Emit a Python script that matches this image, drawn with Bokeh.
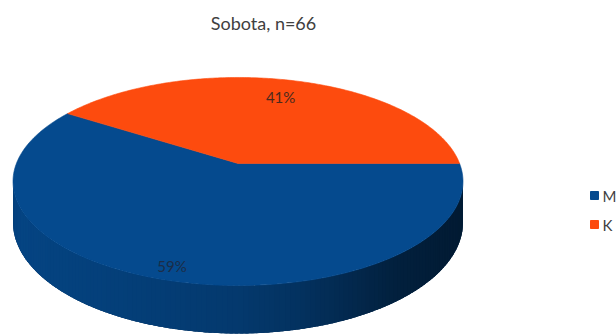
import numpy as np
from bokeh.plotting import figure
from bokeh.models import Range1d, Label
from bokeh.embed import file_html
from bokeh.resources import INLINE

# ---- data ----
title_text = "Sobota, n=66"
categories = ["M", "K"]
counts = [39, 27]
pct_labels = ["59%", "41%"]
slice_colors = ["#054A8E", "#FD4B0E"]
label_colors = ["#1B2D48", "#4A2A1E"]
label_radius = [0.9, 0.77]

# ---- geometry (layout, in screen pixels of the reference) ----
cx, cy = 237.5, 163.0      # projected centre of the top face
R, A = 221.6, 100.9        # horizontal / vertical half-axes before perspective
k = 0.173                  # perspective strength
D = 39.7                   # thickness of the pie
FONT = "Lato"

W, H = 616, 335
p = figure(width=W, height=H, output_backend="svg", toolbar_location=None,
           x_range=Range1d(0, W), y_range=Range1d(H, 0),
           x_axis_type=None, y_axis_type=None, min_border=0)
p.grid.visible = False
p.outline_line_color = None
p.background_fill_color = "white"
p.border_fill_color = "white"


def proj(phi, f=1.0, depth=0.0):
    u = f * np.cos(phi)
    v = f * np.sin(phi)
    w = 1.0 - k * v
    return cx + R * u / w, cy + (A * v + depth) / w


def hex2rgb(h):
    return np.array([int(h[i:i + 2], 16) for i in (1, 3, 5)], dtype=float)


def rgb2hex(c):
    c = np.clip(np.round(c), 0, 255).astype(int)
    return "#%02x%02x%02x" % tuple(c)


vals = np.array(counts, dtype=float)
frac = vals / vals.sum()
ends = 2 * np.pi * np.cumsum(frac)
starts = np.concatenate([[0.0], ends[:-1]])

# ---- side wall (only the front part is visible) ----
vis_a, vis_b = np.arcsin(k), np.pi - np.arcsin(k)
shade_t = [0.0, 0.5, 0.64, 0.86, 1.0]
shade_f = [0.92, 0.77, 0.67, 0.43, 0.36]
for s, e, col in zip(starts, ends, slice_colors):
    a, b = max(s, vis_a), min(e, vis_b)
    if b <= a:
        continue
    base = hex2rgb(col)
    # underlying wall in a middle shade (hides seams between strips)
    ph = np.linspace(a, b, 200)
    tx, ty = proj(ph)
    bx, by = proj(ph[::-1], depth=D)
    mid = rgb2hex(base * 0.6)
    p.patch(np.concatenate([tx, bx]), np.concatenate([ty, by]),
            fill_color=mid, line_color=None)
    n = max(4, int(160 * (b - a) / np.pi))
    ph = np.linspace(a, b, n + 1)
    step = (b - a) / n
    sx, sy, sc = [], [], []
    for i in range(n):
        p0 = ph[i]
        p1 = min(ph[i + 1] + 0.6 * step, b)
        x0, y0 = proj(p0)
        x1, y1 = proj(p1)
        x2, y2 = proj(p1, depth=D)
        x3, y3 = proj(p0, depth=D)
        xm, _ = proj((ph[i] + ph[i + 1]) / 2)
        t = (xm - (cx - R)) / (2 * R)
        fct = np.interp(t, shade_t, shade_f)
        sx.append([float(x0), float(x1), float(x2), float(x3)])
        sy.append([float(y0), float(y1), float(y2), float(y3)])
        sc.append(rgb2hex(base * fct))
    p.patches(sx, sy, fill_color=sc, line_color=None)

# ---- top faces ----
for s, e, col in zip(starts, ends, slice_colors):
    ph = np.linspace(s, e, 200)
    xs, ys = proj(ph)
    xs = np.concatenate([[cx], xs])
    ys = np.concatenate([[cy], ys])
    p.patch(xs, ys, fill_color=col, line_color=col, line_width=0.6)

# ---- percentage labels ----
for s, e, lab, lc, fr in zip(starts, ends, pct_labels, label_colors, label_radius):
    lx, ly = proj((s + e) / 2, f=fr)
    p.add_layout(Label(x=float(lx), y=float(ly), text=lab, text_align="center",
                       text_baseline="middle", text_font=FONT,
                       text_font_size="15px", text_color=lc))

# ---- title ----
p.add_layout(Label(x=263, y=22, text=title_text, text_align="center",
                   text_baseline="middle", text_font=FONT,
                   text_font_size="18px", text_color="#404040"))

# ---- legend ----
leg_y = [195, 224]
for cat, col, ly in zip(categories, slice_colors, leg_y):
    p.scatter([594], [ly], marker="square", size=8, fill_color=col, line_color=col)
    p.add_layout(Label(x=602, y=ly, text=cat, text_align="left",
                       text_baseline="middle", text_font=FONT,
                       text_font_size="15px", text_color="#404040"))

open("out.html", "w").write(file_html(p, INLINE))
